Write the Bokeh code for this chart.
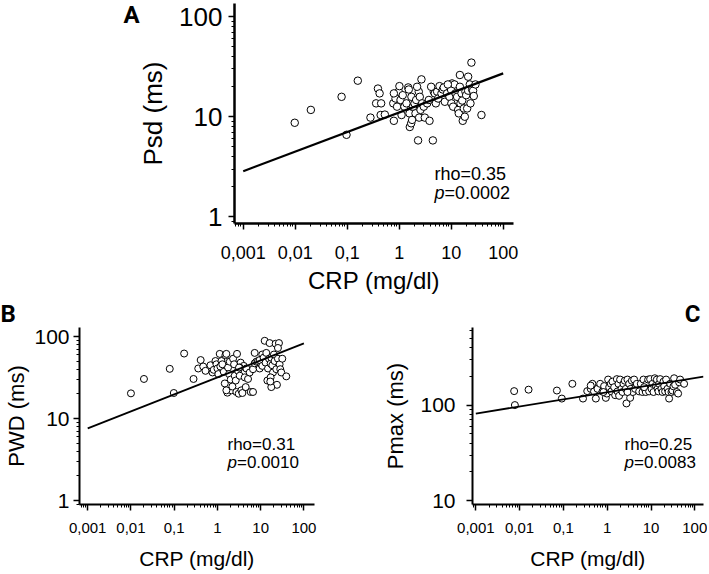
from bokeh.plotting import figure
from bokeh.layouts import column, row, Spacer
from bokeh.models import FixedTicker, CustomJSTickFormatter, Label, LogAxis
from bokeh.embed import file_html
from bokeh.resources import INLINE

FONT = "Liberation Sans"
BOLD_FONT = "Roboto"

# ---------------- data ----------------
x_ticks = [0.001, 0.01, 0.1, 1, 10, 100]
y_ticks = [1, 10, 100, 1000]

# Panel A: CRP vs Psd
crp_a = [0.0098, 0.020, 0.078, 0.16, 0.097, 0.28, 0.39, 0.42, 0.36, 0.45, 0.44, 0.53, 0.77, 0.79, 0.85,
         0.91, 0.98, 1.01, 1.06, 1.11, 1.17, 1.26, 1.38, 1.49, 1.53, 1.58, 1.60, 1.70, 1.72, 1.77, 1.85,
         1.97, 2.06, 2.12, 2.31, 2.38, 2.42, 2.49, 2.57, 2.68, 2.76, 2.97, 3.11, 3.45, 3.72, 3.83, 4.44,
         4.63, 4.84, 5.07, 5.37, 5.61, 5.96, 6.50, 6.90, 7.21, 7.55, 8.36, 9.27, 9.98, 10.1, 10.4, 10.9,
         11.6, 12.1, 13.0, 13.6, 14.0, 14.7, 14.7, 15.1, 15.8, 16.3, 16.7, 17.5, 18.3, 18.8, 19.4, 20.3,
         21.2, 21.2, 22.8, 23.5, 24.5, 25.3, 26.4, 27.2, 29.3, 38.2, 0.79, 2.21, 4.12, 8.61]
psd_a = [8.7, 11.7, 15.8, 22.9, 6.6, 9.8, 19.1, 17.1, 13.6, 13.6, 10.4, 10.5, 13.6, 9.1, 15.2,
         12.6, 17.8, 20.2, 14.7, 10.4, 16.4, 12.6, 13.6, 19.6, 18.7, 10.8, 7.9, 8.6, 15.8, 9.3, 12.6,
         13.6, 10.8, 14.7, 5.8, 17.8, 9.8, 15.8, 11.7, 23.6, 13.6, 12.6, 9.8, 13.6, 14.7, 9.1, 5.8,
         17.8, 17.1, 13.6, 17.8, 15.2, 20.2, 17.1, 18.7, 19.6, 14.1, 17.1, 15.8, 18.5, 13.6, 21.5, 12.6,
         21.0, 17.1, 15.8, 11.7, 10.8, 26.1, 19.9, 13.6, 17.1, 14.5, 9.1, 12.1, 10.0, 17.8, 16.4, 12.1,
         25.1, 18.2, 21.0, 13.6, 34.7, 18.7, 18.2, 16.1, 21.0, 10.4, 17.1, 19.9, 19.9, 21.0]
fit_a_x = [0.001, 100]
fit_a_y = [2.86, 27.1]

# Panel B: CRP vs PWD
crp_b = [0.010, 0.020, 0.079, 0.098, 0.17, 0.28, 0.36, 0.41, 0.47, 0.53, 0.69, 0.77, 0.82, 0.90, 0.95,
         1.0, 1.05, 1.13, 1.17, 1.24, 1.30, 1.40, 1.48, 1.53, 1.61, 1.70, 1.76, 1.86, 1.93, 2.03, 2.10,
         2.22, 2.30, 2.43, 2.51, 2.65, 2.74, 2.84, 3.00, 3.11, 3.28, 3.45, 3.58, 3.78, 4.05, 4.28, 4.51,
         4.67, 3.28, 5.10, 5.58, 5.88, 6.65, 7.27, 7.94, 8.68, 9.48, 10.4, 6.65, 7.27, 9.48, 10.9, 10.9,
         11.7, 12.4, 13.0, 13.5, 14.3, 14.8, 15.6, 16.1, 17.0, 17.6, 18.6, 19.3, 20.3, 21.0, 22.2, 23.0,
         23.8, 25.1, 26.5, 27.4, 28.4, 30.0, 31.6, 17.6, 17.0, 16.7, 39.1, 25.1, 1.61, 3.16]
pwd_b = [20.3, 30.4, 40.4, 20.5, 62.1, 30.4, 40.8, 51.7, 43.1, 38.2, 44.7, 36.5, 39.3, 50.3, 45.9,
         40.8, 34.9, 61.5, 43.1, 50.3, 45.9, 37.2, 26.8, 59.3, 61.5, 20.7, 41.9, 34.9, 49.4, 29.9, 22.1,
         24.6, 53.7, 45.9, 33.3, 29.1, 21.1, 61.5, 38.2, 20.1, 33.3, 48.1, 22.1, 20.5, 43.9, 31.8, 24.2,
         40.8, 41.9, 30.4, 36.5, 21.1, 40.0, 47.2, 49.4, 50.3, 40.8, 45.9, 21.1, 63.2, 51.7, 60.4, 43.9,
         55.2, 88.8, 48.1, 63.2, 29.1, 40.8, 53.7, 83.3, 46.8, 55.2, 44.7, 36.5, 60.4, 50.3, 81.8, 40.0,
         25.8, 53.7, 83.3, 45.9, 40.0, 36.5, 53.7, 24.2, 31.8, 28.3, 32.7, 72.6, 22.1, 41.9]
fit_b_x = [0.001, 100]
fit_b_y = [7.6, 82.6]

# Panel C: CRP vs Pmax
crp_c = [0.0075, 0.0078, 0.016, 0.071, 0.092, 0.16, 0.28, 0.35, 0.42, 0.46, 0.50, 0.55, 0.60, 0.69, 0.78,
         0.85, 0.93, 0.98, 1.05, 1.11, 1.21, 1.25, 1.32, 1.44, 1.52, 1.66, 1.72, 1.81, 1.87, 1.97, 2.12,
         2.23, 2.35, 2.52, 2.66, 2.75, 2.90, 3.01, 3.17, 3.34, 3.46, 3.65, 3.84, 4.12, 4.34, 4.74, 5.36,
         5.85, 6.38, 6.73, 7.21, 7.60, 8.02, 8.61, 9.06, 9.55, 10.3, 10.8, 11.4, 12.2, 12.9, 13.6, 14.1,
         14.8, 15.3, 16.2, 17.3, 18.3, 19.3, 20.0, 21.0, 22.1, 23.8, 25.1, 25.9, 27.4, 29.3, 30.9, 32.6,
         33.7, 35.6, 38.8, 41.6, 43.9, 46.2, 57.0, 2.90, 0.42, 0.82, 6.97]
pmax_c = [140, 100, 145, 142, 117, 167, 117, 140, 148, 167, 139, 117, 148, 167, 139,
          158, 119, 132, 185, 154, 167, 139, 176, 154, 127, 187, 139, 167, 125, 185, 148,
          137, 167, 180, 148, 104, 185, 137, 167, 119, 148, 180, 137, 185, 148, 167, 139,
          167, 137, 185, 148, 137, 167, 185, 139, 187, 148, 167, 137, 191, 160, 185, 148,
          139, 167, 187, 148, 137, 176, 158, 139, 185, 148, 137, 117, 167, 137, 142, 157,
          191, 163, 137, 132, 173, 185, 167, 137, 160, 137, 154]
fit_c_x = [0.001, 158]
fit_c_y = [81.5, 199]

minor_ticks = [m * 10.0 ** e for e in range(-4, 4) for m in range(2, 10)]

fmt_code = "return String(tick).replace('.', ',');"


def make_panel(width, height, borders, x_rng, y_rng, tick_fs, ytick_fs, xlab_fs, ylab_fs,
               ylabel, x_std, x_lstd, y_std, y_lstd, axis_w):
    left, right, top, bottom = borders
    p = figure(width=width, height=height, x_axis_type="log", y_axis_type="log",
               x_range=x_rng, y_range=y_rng, output_backend="svg", toolbar_location=None,
               min_border_left=left, min_border_right=right, min_border_top=top,
               min_border_bottom=bottom)
    p.grid.visible = False
    p.outline_line_color = None
    p.background_fill_color = "white"
    p.border_fill_color = "white"
    for ax, ticks, fs, lfs, std, lstd, lab in (
            (p.xaxis[0], x_ticks, tick_fs, xlab_fs, x_std, x_lstd, "CRP (mg/dl)"),
            (p.yaxis[0], y_ticks, ytick_fs, ylab_fs, y_std, y_lstd, ylabel)):
        ax.ticker = FixedTicker(ticks=ticks, minor_ticks=minor_ticks)
        ax.formatter = CustomJSTickFormatter(code=fmt_code)
        ax.axis_line_color = "black"
        ax.axis_line_width = axis_w
        ax.major_tick_line_color = "black"
        ax.major_tick_line_width = 1.5
        ax.major_tick_out = 6
        ax.major_tick_in = 0
        ax.minor_tick_line_color = "black"
        ax.minor_tick_line_width = 1
        ax.minor_tick_out = 3
        ax.minor_tick_in = 0
        ax.major_label_text_font = FONT
        ax.major_label_text_font_size = f"{fs}px"
        ax.major_label_text_color = "black"
        ax.major_label_standoff = std
        ax.axis_label = lab
        ax.axis_label_text_font = FONT
        ax.axis_label_text_font_size = f"{lfs}px"
        ax.axis_label_text_font_style = "normal"
        ax.axis_label_text_color = "black"
        ax.axis_label_standoff = lstd
    return p


def add_stats(p, tx, ty1, ty2, tfs, rho, pval):
    p.add_layout(Label(x=tx, y=ty1, x_units="screen", y_units="screen", text=rho,
                       text_font=FONT, text_font_size=f"{tfs}px", text_color="black",
                       text_align="left", text_baseline="alphabetic"))
    p.add_layout(Label(x=tx, y=ty2, x_units="screen", y_units="screen", text="p",
                       text_font=FONT, text_font_size=f"{tfs}px", text_font_style="italic",
                       text_color="black", text_align="left", text_baseline="alphabetic"))
    p.add_layout(Label(x=tx + 0.556 * tfs, y=ty2, x_units="screen", y_units="screen", text=pval,
                       text_font=FONT, text_font_size=f"{tfs}px", text_color="black",
                       text_align="left", text_baseline="alphabetic"))


def letter_title(p, letter, align, offset):
    p.title.text = letter
    p.title.align = align
    p.title.offset = offset
    p.title.standoff = 0
    p.title.text_font = BOLD_FONT
    p.title.text_font_size = "24px"
    p.title.text_font_style = "bold"
    p.title.text_color = "black"


# ---------------- panel A ----------------
pA = make_panel(414, 297, (115, 20, 3, 74), (0.00068, 158), (0.859, 135),
                18, 26, 24, 26, "Psd (ms)", 16, 5, 6, 8, 2.5)
pA.scatter(crp_a, psd_a, size=7.5, marker="circle", fill_color="white",
           line_color="black", line_width=1)
pA.line(fit_a_x, fit_a_y, line_color="black", line_width=2.2)
add_stats(pA, 200, 50, 31, 18, "rho=0.35", "=0.0002")

# panel letter "A": single-tick outer axis on the left
letter_a_pos = 105
letter_axis = LogAxis(ticker=FixedTicker(ticks=[letter_a_pos], minor_ticks=[]),
                      major_label_overrides={letter_a_pos: "A"})
letter_axis.axis_line_color = None
letter_axis.major_tick_line_color = None
letter_axis.minor_tick_line_color = None
letter_axis.major_tick_out = 0
letter_axis.major_label_standoff = -4
letter_axis.major_label_text_font = BOLD_FONT
letter_axis.major_label_text_font_style = "bold"
letter_axis.major_label_text_font_size = "24px"
letter_axis.major_label_text_color = "black"
pA.add_layout(letter_axis, "left")

# ---------------- panel B ----------------
pB = make_panel(380, 275, (79, 66, 0, 67), (0.000646, 175.8), (0.895, 129),
                15, 21, 21, 22, "PWD (ms)", 12, 11, 4, 2, 2)
pB.scatter(crp_b, pwd_b, size=7, marker="circle", fill_color="white",
           line_color="black", line_width=1)
pB.line(fit_b_x, fit_b_y, line_color="black", line_width=1.8)
add_stats(pB, 148, 60, 42, 17, "rho=0.31", "=0.0010")
letter_title(pB, "B", "left", -79)

# ---------------- panel C ----------------
pC = make_panel(327, 275, (92, 4, 0, 67), (0.00084, 158), (9.1, 649),
                15, 21, 21, 22, "Pmax (ms)", 12, 11, 11, 9, 2)
pC.scatter(crp_c, pmax_c, size=7, marker="circle", fill_color="white",
           line_color="black", line_width=1)
pC.line(fit_c_x, fit_c_y, line_color="black", line_width=1.8)
add_stats(pC, 152, 60, 42, 17, "rho=0.25", "=0.0083")
letter_title(pC, "C", "right", 3)

layout = column(row(Spacer(width=119, height=297), pA), row(pB, pC))

open("out.html", "w").write(file_html(layout, INLINE))
